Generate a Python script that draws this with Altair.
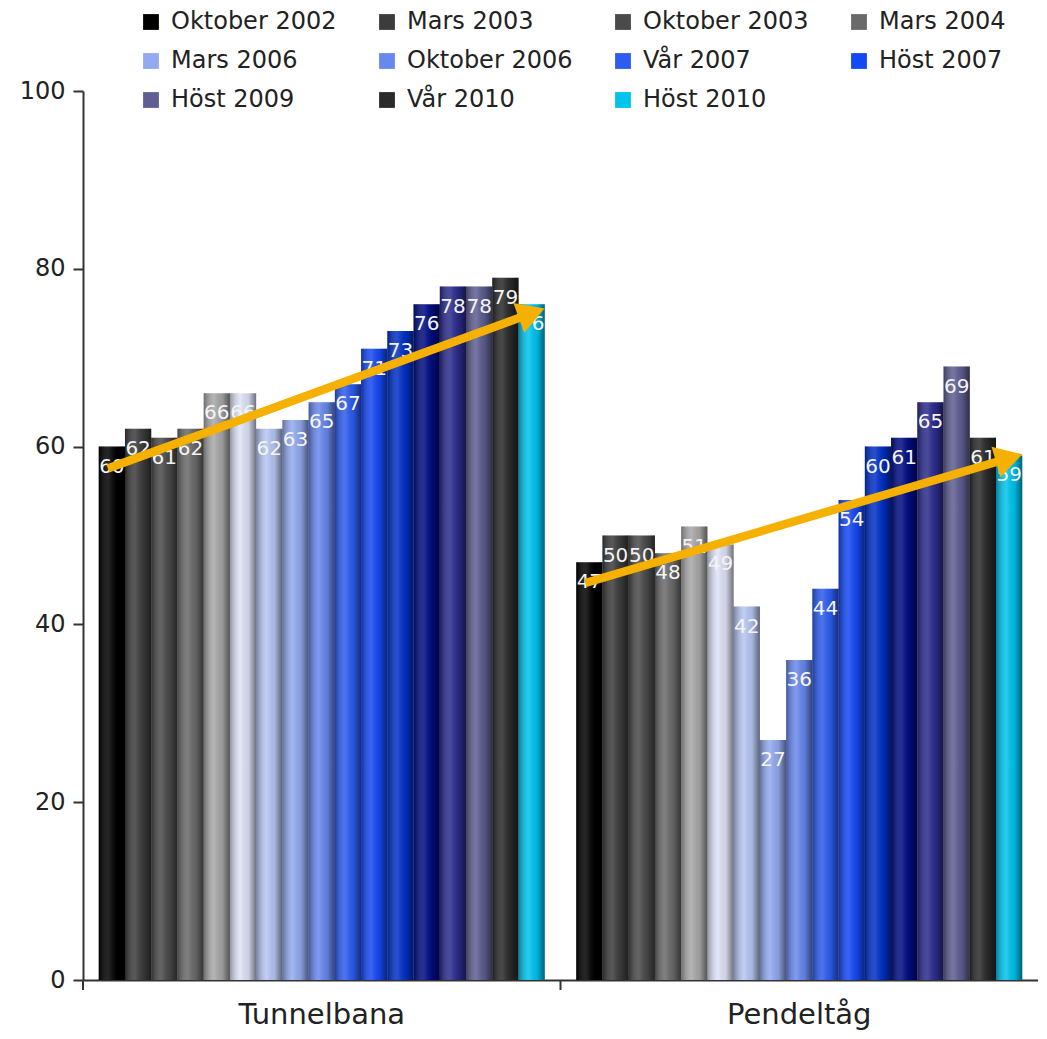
import math
import altair as alt
import pandas as pd

groups = ["Tunnelbana", "Pendeltåg"]
series = ["Oktober 2002", "Mars 2003", "Oktober 2003", "Mars 2004", "Oktober 2004",
          "Mars 2005", "Oktober 2005", "Mars 2006", "Oktober 2006", "Vår 2007",
          "Höst 2007", "Vår 2008", "Höst 2008", "Vår 2009", "Höst 2009",
          "Vår 2010", "Höst 2010"]
tunnelbana = [60, 62, 61, 62, 66, 66, 62, 63, 65, 67, 71, 73, 76, 78, 78, 79, 76]
pendeltag = [47, 50, 50, 48, 51, 49, 42, 27, 36, 44, 54, 60, 61, 65, 69, 61, 59]
colors = ["#000000", "#3c3c3c", "#4a4a4a", "#6a6a6a", "#a8a8a8", "#dfe3f7",
          "#b7c6f3", "#93aaf0", "#6888ee", "#2d5cf0", "#1548f5", "#0030c8",
          "#000c82", "#2c2c8e", "#5e5e92", "#2a2a2a", "#00c4ee"]
legend_shown = ["Oktober 2002", "Mars 2003", "Oktober 2003", "Mars 2004",
                "Mars 2006", "Oktober 2006", "Vår 2007", "Höst 2007",
                "Höst 2009", "Vår 2010", "Höst 2010"]
trend_start = [57.7, 44.8]
trend_end = [75.0, 58.7]

W = 955
H = 889
PAD_OUT = 0.6
FONT = "DejaVu Sans"
ORANGE = "#F5B000"

rows = []
for g, vals in zip(groups, [tunnelbana, pendeltag]):
    for s, v in zip(series, vals):
        rows.append({"group": g, "series": s, "value": v})
df = pd.DataFrame(rows)

step = (W / 2) / (len(series) + 2 * PAD_OUT)
arrow_rows = []
for g, a, b in zip(groups, trend_start, trend_end):
    ang = math.degrees(math.atan2((b - a) * H / 100, (len(series) - 1) * step))
    arrow_rows.append({"group": g, "series": series[0], "value": a, "angle": 0, "end": 0})
    arrow_rows.append({"group": g, "series": series[-1], "value": b,
                       "angle": (360 - ang) % 360, "end": 1})
adf = pd.DataFrame(arrow_rows)

x_enc = alt.X("group:N",
              scale=alt.Scale(domain=groups, paddingInner=0, paddingOuter=0),
              axis=alt.Axis(title=None, ticks=False, labelAngle=0, labelFontSize=29,
                            labelFont=FONT, labelPadding=20, labelColor="#222",
                            domainColor="#333", domainWidth=2))
xo_enc = alt.XOffset("series:N",
                     scale=alt.Scale(domain=series, paddingInner=0, paddingOuter=PAD_OUT))
y_enc = alt.Y("value:Q", scale=alt.Scale(domain=[0, 100], nice=False),
              axis=alt.Axis(title=None, values=[0, 20, 40, 60, 80, 100], grid=False,
                            tickSize=10, tickWidth=2, tickColor="#333",
                            domainColor="#333", domainWidth=2, labelFontSize=24,
                            labelFont=FONT, labelColor="#222", labelPadding=8))

bars = alt.Chart(df).mark_bar().encode(
    x=x_enc, xOffset=xo_enc, y=y_enc,
    color=alt.Color("series:N", scale=alt.Scale(domain=series, range=colors),
                    legend=alt.Legend(title=None, orient="none", legendX=56, legendY=-81,
                                      direction="horizontal",
                                      columns=4, values=legend_shown, symbolType="square",
                                      symbolSize=250, symbolStrokeWidth=0,
                                      labelFontSize=24, labelFont=FONT, labelColor="#222",
                                      labelOffset=8, columnPadding=38, rowPadding=15,
                                      gridAlign="all", padding=0, labelLimit=400))
)

shade = alt.Chart(df).mark_bar(
    fill=alt.Gradient(gradient="linear", x1=0, x2=1, y1=0, y2=0, stops=[
        alt.GradientStop(color="rgba(0,0,0,0.35)", offset=0),
        alt.GradientStop(color="rgba(255,255,255,0.14)", offset=0.4),
        alt.GradientStop(color="rgba(0,0,0,0.08)", offset=0.7),
        alt.GradientStop(color="rgba(0,0,0,0.5)", offset=1),
    ])
).encode(x=x_enc, xOffset=xo_enc, y=y_enc)

labels = alt.Chart(df).mark_text(color="#f4f4f4", fontSize=20, font=FONT,
                                  baseline="middle", dy=20).encode(
    x=x_enc, xOffset=xo_enc, y=y_enc, text="value:Q")

xticks = alt.Chart(pd.DataFrame({"group": groups})).mark_rule(
    color="#333", strokeWidth=2).encode(
    x=alt.X("group:N", bandPosition=0,
            scale=alt.Scale(domain=groups, paddingInner=0, paddingOuter=0)),
    y=alt.value(H), y2=alt.value(H + 10))

arrow_line = alt.Chart(adf).mark_line(color=ORANGE, strokeWidth=8.5,
                                      strokeCap="square").encode(
    x=x_enc, xOffset=xo_enc, y=y_enc, detail="group:N")

arrow_head = alt.Chart(adf).transform_filter("datum.end == 1").mark_point(
    shape="triangle-right", filled=True, size=1000, color=ORANGE, opacity=1).encode(
    x=x_enc, xOffset=xo_enc, y=y_enc, angle=alt.Angle("angle:Q", scale=None))

chart = alt.layer(bars, shade, labels, xticks, arrow_line, arrow_head).properties(
    width=W, height=H,
    padding={"left": 75, "top": 83, "right": 0, "bottom": 50},
    autosize=alt.AutoSizeParams(type="none"),
).configure_view(stroke=None)

chart.save("out.html", embed_options={"renderer": "svg", "actions": False})
